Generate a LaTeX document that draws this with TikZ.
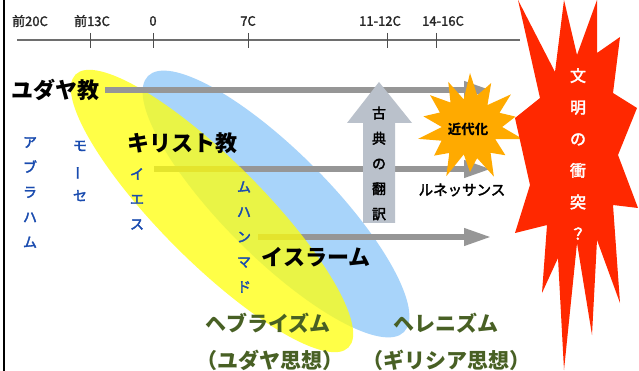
\documentclass[tikz,border=0pt]{standalone}
\usepackage{fontspec}
\usepackage{graphicx}
\setmainfont{Noto Sans CJK JP}
\newfontfamily\jpmed{Noto Sans CJK JP}[FakeBold=2.5]
\newfontfamily\jpreg{Noto Sans CJK JP}[FakeBold=1.5]
\usetikzlibrary{arrows.meta}
\definecolor{ellyellow}{RGB}{255,255,10}
\definecolor{ellblue}{RGB}{168,212,250}
\definecolor{arrgray}{RGB}{150,150,150}
\definecolor{upgray}{RGB}{186,193,203}
\definecolor{starorange}{RGB}{255,170,0}
\definecolor{boomred}{RGB}{255,40,0}
\definecolor{namblue}{RGB}{25,75,175}
\definecolor{thgreen}{RGB}{72,96,36}
\definecolor{tlgray}{RGB}{110,110,110}
\tikzset{
  flowarrow/.style={draw=arrgray, line width=6.5pt, -{Triangle[length=28pt,width=16pt]}},
  religion/.style={font=\bfseries\fontsize{22}{22}\selectfont, inner sep=0pt},
  tlabel/.style={font=\jpreg\fontsize{13}{13}\selectfont, text=black!85, inner sep=0pt},
  vname/.style={font=\jpmed\fontsize{14}{25}\selectfont, text=namblue, align=center, inner sep=0pt},
  thought/.style={font=\bfseries\fontsize{21}{22}\selectfont, text=thgreen, inner sep=0pt},
}
\begin{document}
\begin{tikzpicture}[x=1pt,y=-1pt]
\useasboundingbox (0,0) rectangle (639,371);
\fill[white] (0,0) rectangle (639,371);
% left border
\draw[black, line width=1.8pt] (4,0) -- (4,371);
% timeline
\coordinate (tl0) at (17,40);
\coordinate (tl1) at (520,40);
\draw[tlgray, line width=1.2pt] (tl0) -- (tl1);
\foreach \x in {90,153,248,387,436} {
  \draw[tlgray!70!black, line width=1pt] (\x,33) -- (\x,48);
}
\node[tlabel] (l20) at (30,21) {前20C};
\node[tlabel] (l13) at (92,21) {前13C};
\node[tlabel] (l0) at (153,21) {0};
\node[tlabel] (l7) at (248,21) {7C};
\node[tlabel] (l11) at (380,21) {11-12C};
\node[tlabel] (l14) at (443,21) {14-16C};
% blue ellipse
\fill[ellblue, rotate around={-45:(276,204)}] (276,204) ellipse (181 and 53);
% arrows under yellow
\coordinate (c0) at (154,169);
\coordinate (c1) at (492,169);
\coordinate (i0) at (258,237);
\coordinate (i1) at (492,237);
\draw[flowarrow] (c0) -- (c1);
\draw[flowarrow] (i0) -- (i1);
% yellow ellipse
\fill[ellyellow, opacity=0.75, rotate around={-45:(212,211)}] (212,211) ellipse (193 and 51);
% judaism arrow
\coordinate (j0) at (105,90);
\coordinate (j1) at (492,90);
\draw[flowarrow] (j0) -- (j1);
% upward arrow
\fill[upgray] (379,82) -- (412,123) -- (395,123) -- (395,223) -- (363,223) -- (363,123) -- (347,123) -- cycle;
\node[font=\jpmed\fontsize{14}{25.2}\selectfont, align=center, inner sep=0pt] (koten) at (379,163.5) {古\\典\\の\\翻\\訳};
% orange star
\begin{scope}[shift={(470,127)}]
\fill[starorange] (-90:54)
  \foreach \i in {1,...,27} { -- ({-90+\i*360/28}:{mod(\i,2)==0 ? 50+5*sin(\i*97) : 31+3*cos(\i*61)}) } -- cycle;
\end{scope}
\node[font=\bfseries\fontsize{13.5}{13.5}\selectfont, inner sep=0pt] (kindai) at (468,129) {近代化};
% red explosion
\fill[boomred] (518,0) -- (555,72) -- (564,0) -- (577,55) -- (597,0) -- (597,53) -- (620,37) -- (613,93) -- (637,108) -- (618,155) -- (638,208) -- (613,205) -- (620,303) -- (597,240) -- (592,335) -- (577,243) -- (564,370) -- (558,258) -- (542,293) -- (547,225) -- (515,233) -- (530,185) -- (515,118) -- (540,98) -- cycle;
\node[font=\jpmed\fontsize{16}{31.6}\selectfont, text=white, align=center, inner sep=0pt] (clash) at (578,154) {文\\明\\の\\衝\\突\\？};
% religions
\node[religion] (judaism) at (55,90) {ユダヤ教};
\node[religion] (christ) at (182,143) {キリスト教};
\node[religion] (islam) at (316,257) {イスラーム};
% names
\node[vname] (abraham) at (30,192.5) {ア\\ブ\\ラ\\ハ\\ム};
\node[vname] (moses) at (80,171) {モ\\\rotatebox[origin=c]{90}{ー}\\セ};
\node[vname] (jesus) at (137,199) {イ\\エ\\ス};
\node[vname] (muhammad) at (244,237) {ム\\ハ\\ン\\マ\\ド};
\node[font=\jpmed\fontsize{14.5}{14.5}\selectfont, inner sep=0pt] (renai) at (462,190) {ルネッサンス};
% thoughts
\node[thought] (hebr) at (268,323) {ヘブライズム};
\node[thought] (hebr2) at (270,360) {（ユダヤ思想）};
\node[thought] (hell) at (446,323) {ヘレニズム};
\node[thought] (hell2) at (446,360) {（ギリシア思想）};
\end{tikzpicture}
\end{document}
